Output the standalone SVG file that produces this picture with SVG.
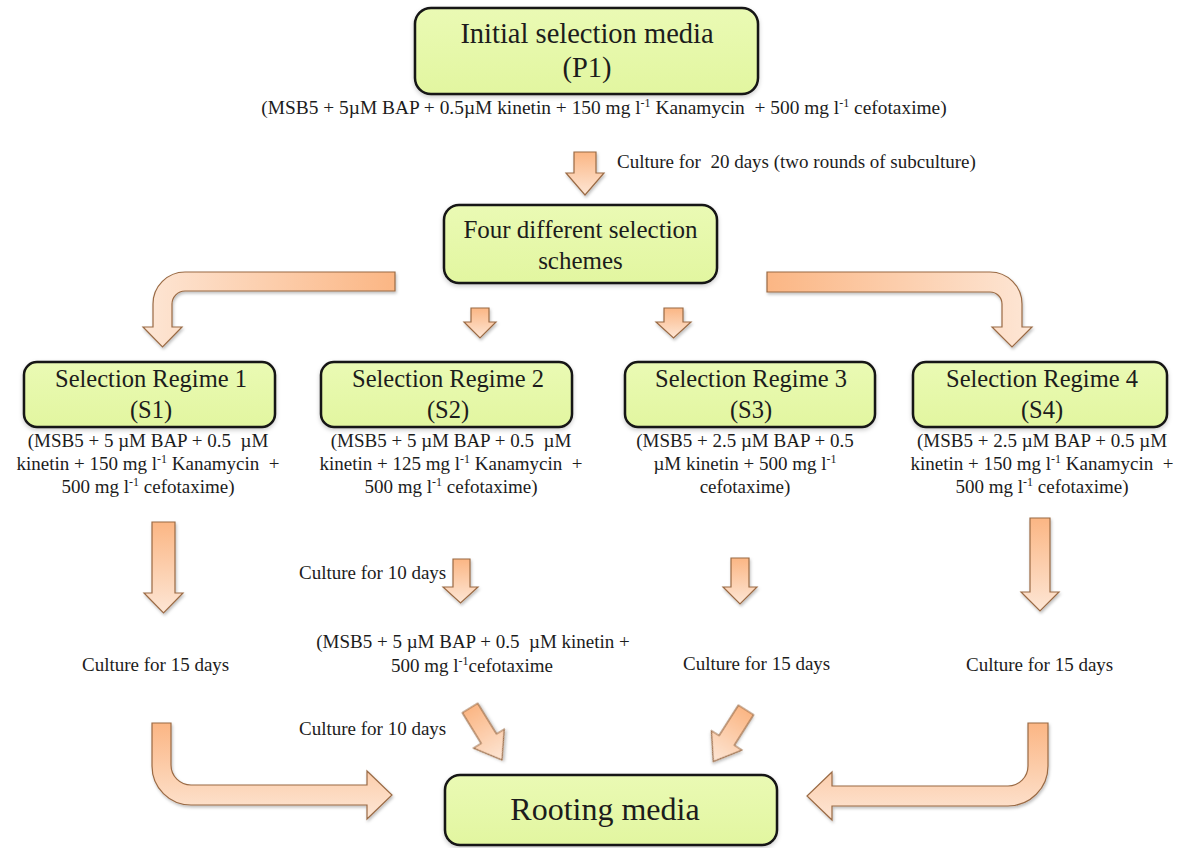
<svg xmlns="http://www.w3.org/2000/svg" width="1186" height="848" viewBox="0 0 1186 848">
  <defs>
    <linearGradient id="boxFill" x1="0" y1="0" x2="0" y2="1">
      <stop offset="0" stop-color="#EAFAB4"/>
      <stop offset="1" stop-color="#E2F6A0"/>
    </linearGradient>
    <linearGradient id="gDown" x1="0" y1="0" x2="0" y2="1">
      <stop offset="0" stop-color="#FBB684"/>
      <stop offset="1" stop-color="#FDE6D5"/>
    </linearGradient>
    <linearGradient id="gToLeft" x1="1" y1="0" x2="0" y2="0">
      <stop offset="0" stop-color="#FBB684"/>
      <stop offset="1" stop-color="#FDE6D5"/>
    </linearGradient>
    <linearGradient id="gToRight" x1="0" y1="0" x2="1" y2="0">
      <stop offset="0" stop-color="#FBB684"/>
      <stop offset="1" stop-color="#FDE6D5"/>
    </linearGradient>
    <filter id="shadow" x="-20%" y="-20%" width="140%" height="140%">
      <feDropShadow dx="1" dy="2" stdDeviation="1.5" flood-color="#000" flood-opacity="0.25"/>
    </filter>
    <filter id="boxShadow" x="-10%" y="-10%" width="120%" height="130%">
      <feDropShadow dx="0" dy="2" stdDeviation="2" flood-color="#000" flood-opacity="0.2"/>
    </filter>
  </defs>
  <style>
    .box { fill: url(#boxFill); stroke: #141414; stroke-width: 2.5; filter: url(#boxShadow); }
    .arrow { stroke: #9A6A44; stroke-width: 1.2; stroke-linejoin: miter; filter: url(#shadow); }
    .down { fill: url(#gDown); }
    text { font-family: "Liberation Serif", "Times New Roman", serif; fill: #1C1C1C; white-space: pre; }
    .t1 { font-size: 28.5px; }
    .t2 { font-size: 25px; }
    .t3 { font-size: 24.5px; }
    .t4 { font-size: 32px; }
    .sm { font-size: 19px; }
    .top { font-size: 19.4px; }
    .mid { text-anchor: middle; }
    .sup { font-size: 12px; }
  </style>
  <rect width="1186" height="848" fill="#FFFFFF"/>

  <!-- connectors -->
  <g id="connectors">
    <!-- P1 to schemes -->
    <polygon class="arrow down" points="574,152 596,152 596,173 604,173 585,195 566,173 574,173"/>
    <!-- schemes to S1 (bent left) -->
    <path class="arrow" fill="url(#gToLeft)" d="M395,272 L185,272 A32,32 0 0 0 153,304 L153,327 L143,327 L162.5,347 L182,327 L172,327 L172,304 A13,13 0 0 1 185,291 L395,291 Z"/>
    <!-- schemes to S4 (bent right) -->
    <path class="arrow" fill="url(#gToRight)" d="M767,272 L990,272 A32,32 0 0 1 1022,304 L1022,327 L1032,327 L1012,347 L992,327 L1002,327 L1002,304 A12,12 0 0 0 990,292 L767,292 Z"/>
    <!-- schemes to S2 and S3 -->
    <polygon class="arrow down" points="471,308 489,308 489,322 496,322 480,338 464,322 471,322"/>
    <polygon class="arrow down" points="664,308 683,308 683,322 691,322 673.5,338 656,322 664,322"/>
    <!-- S1 downward -->
    <polygon class="arrow down" points="152,522 175,522 175,593 183,593 163.5,613 144,593 152,593"/>
    <!-- S2 downward -->
    <polygon class="arrow down" points="453,559 470,559 470,587 478,587 460.5,603 443,587 453,587"/>
    <!-- S3 downward -->
    <polygon class="arrow down" points="731,558 749,558 749,587 757,587 740,604 723,587 731,587"/>
    <!-- S4 downward -->
    <polygon class="arrow down" points="1030,518 1050,518 1050,592 1059,592 1040,611 1021,592 1030,592"/>
    <!-- S1 to rooting -->
    <path class="arrow down" d="M152,723 L171,723 L171,765 A20,20 0 0 0 191,785 L367,785 L367,771 L392,795 L367,819 L367,805 L191,805 A39,39 0 0 1 152,766 Z"/>
    <!-- S2 to rooting (diagonal) -->
    <g transform="translate(470,708) rotate(-31.6)">
      <polygon class="arrow down" points="-9,0 9,0 9,36 18,36 0,61 -18,36 -9,36"/>
    </g>
    <!-- S3 to rooting (diagonal) -->
    <g transform="translate(746,710) rotate(32.4)">
      <polygon class="arrow down" points="-9,0 9,0 9,36 18,36 0,61 -18,36 -9,36"/>
    </g>
    <!-- S4 to rooting -->
    <path class="arrow down" d="M1048,723 L1028,723 L1028,766 A20,20 0 0 1 1008,786 L832,786 L832,772 L807,796 L832,820 L832,806 L1008,806 A40,40 0 0 0 1048,766 Z"/>
  </g>

  <!-- nodes -->
  <g id="p1">
    <rect class="box" x="415" y="8" width="343" height="86" rx="16"/>
    <text class="t1 mid" x="587" y="43">Initial selection media</text>
    <text class="t1 mid" x="587" y="77">(P1)</text>
  </g>
  <g id="p1-medium">
    <text class="top mid" x="604" y="114">(MSB5 + 5µM BAP + 0.5µM kinetin + 150 mg l<tspan class="sup" dy="-7">-1</tspan><tspan dy="7"> Kanamycin  + 500 mg l</tspan><tspan class="sup" dy="-7">-1</tspan><tspan dy="7"> cefotaxime)</tspan></text>
  </g>
  <g id="label-20days">
    <text class="sm" x="617" y="168">Culture for  20 days (two rounds of subculture)</text>
  </g>

  <g id="schemes">
    <rect class="box" x="444" y="205" width="273" height="78" rx="15"/>
    <text class="t2 mid" x="580.5" y="238">Four different selection</text>
    <text class="t2 mid" x="580.5" y="269">schemes</text>
  </g>

  <g id="s1">
    <rect class="box" x="24" y="362" width="251" height="65" rx="13"/>
    <text class="t3 mid" x="151" y="387">Selection Regime 1</text>
    <text class="t3 mid" x="151" y="418">(S1)</text>
    <text class="sm mid" x="148" y="447">(MSB5 + 5 µM BAP + 0.5  µM</text>
    <text class="sm mid" x="148" y="470">kinetin + 150 mg l<tspan class="sup" dy="-7">-1</tspan><tspan dy="7"> Kanamycin  +</tspan></text>
    <text class="sm mid" x="148" y="493">500 mg l<tspan class="sup" dy="-7">-1</tspan><tspan dy="7"> cefotaxime)</tspan></text>
  </g>

  <g id="s2">
    <rect class="box" x="321" y="362" width="251" height="65" rx="13"/>
    <text class="t3 mid" x="448" y="387">Selection Regime 2</text>
    <text class="t3 mid" x="448" y="418">(S2)</text>
    <text class="sm mid" x="451" y="447">(MSB5 + 5 µM BAP + 0.5  µM</text>
    <text class="sm mid" x="451" y="470">kinetin + 125 mg l<tspan class="sup" dy="-7">-1</tspan><tspan dy="7"> Kanamycin  +</tspan></text>
    <text class="sm mid" x="451" y="493">500 mg l<tspan class="sup" dy="-7">-1</tspan><tspan dy="7"> cefotaxime)</tspan></text>
  </g>

  <g id="s3">
    <rect class="box" x="625" y="362" width="250" height="65" rx="13"/>
    <text class="t3 mid" x="751" y="387">Selection Regime 3</text>
    <text class="t3 mid" x="751" y="418">(S3)</text>
    <text class="sm mid" x="745" y="447">(MSB5 + 2.5 µM BAP + 0.5</text>
    <text class="sm mid" x="745" y="470">µM kinetin + 500 mg l<tspan class="sup" dy="-7">-1</tspan></text>
    <text class="sm mid" x="745" y="493">cefotaxime)</text>
  </g>

  <g id="s4">
    <rect class="box" x="913" y="362" width="254" height="65" rx="13"/>
    <text class="t3 mid" x="1042" y="387">Selection Regime 4</text>
    <text class="t3 mid" x="1042" y="418">(S4)</text>
    <text class="sm mid" x="1042" y="447">(MSB5 + 2.5 µM BAP + 0.5 µM</text>
    <text class="sm mid" x="1042" y="470">kinetin + 150 mg l<tspan class="sup" dy="-7">-1</tspan><tspan dy="7"> Kanamycin  +</tspan></text>
    <text class="sm mid" x="1042" y="493">500 mg l<tspan class="sup" dy="-7">-1</tspan><tspan dy="7"> cefotaxime)</tspan></text>
  </g>

  <g id="s2-labels">
    <text class="sm" x="299" y="579">Culture for 10 days</text>
    <text class="sm mid" x="473" y="648">(MSB5 + 5 µM BAP + 0.5  µM kinetin +</text>
    <text class="sm mid" x="472" y="672">500 mg l<tspan class="sup" dy="-7">-1</tspan><tspan dy="7">cefotaxime</tspan></text>
    <text class="sm" x="299" y="735">Culture for 10 days</text>
  </g>
  <g id="s1-label">
    <text class="sm" x="82" y="671">Culture for 15 days</text>
  </g>
  <g id="s3-label">
    <text class="sm" x="683" y="670">Culture for 15 days</text>
  </g>
  <g id="s4-label">
    <text class="sm" x="966" y="671">Culture for 15 days</text>
  </g>

  <g id="rooting">
    <rect class="box" x="445" y="775" width="332" height="70" rx="15"/>
    <text class="t4 mid" x="605" y="820">Rooting media</text>
  </g>
</svg>
